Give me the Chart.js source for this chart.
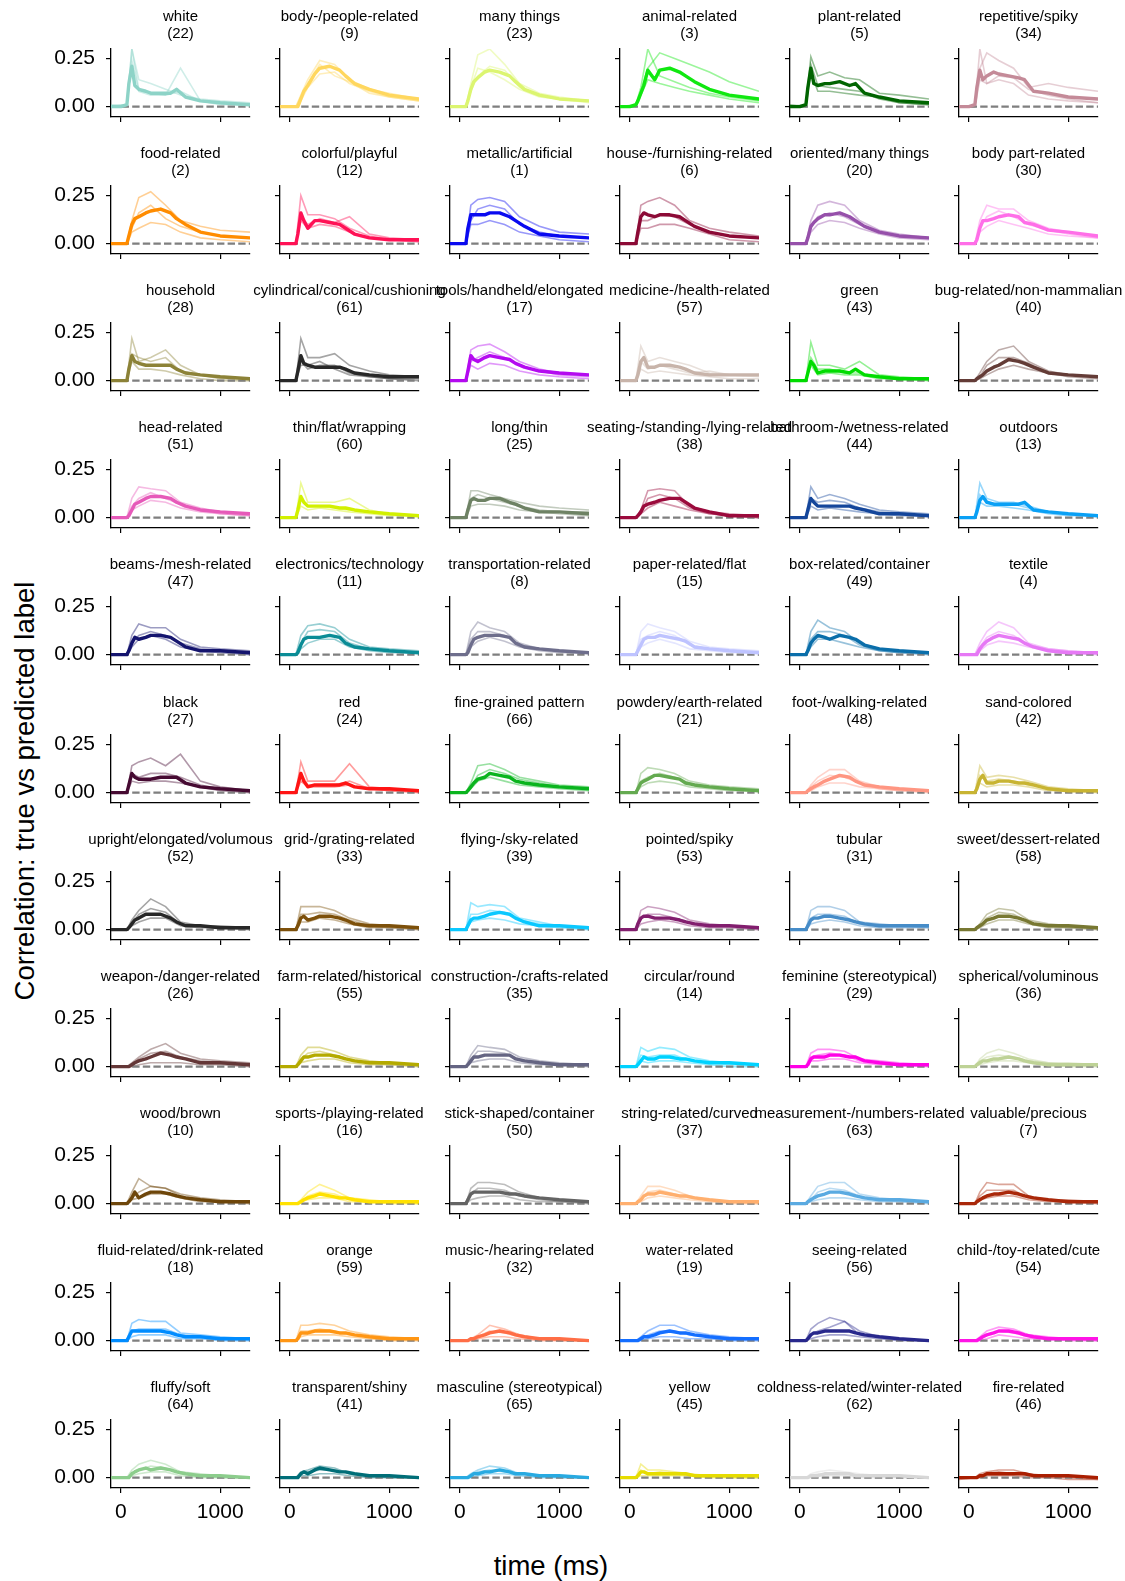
<!DOCTYPE html>
<html>
<head>
<meta charset="utf-8">
<script src="https://cdn.jsdelivr.net/npm/chart.js@4.4.1/dist/chart.umd.min.js"></script>
<style>
  body { margin: 0; background: #fff; width: 1125px; height: 1581px; position: relative; overflow: hidden;
         font-family: "Liberation Sans", Arial, sans-serif; }
  .cell { position: absolute; width: 289px; height: 168px; }
  #ylab { position: absolute; left: 25px; top: 791px; transform: translate(-50%, -50%) rotate(-90deg);
          font-size: 27.5px; white-space: nowrap; }
  #xlab { position: absolute; left: 551px; top: 1566px; transform: translate(-50%, -50%);
          font-size: 27.5px; white-space: nowrap; }
</style>
</head>
<body>
<div id="ylab">Correlation: true vs predicted label</div>
<div id="xlab">time (ms)</div>
<script>
// time points (ms) for the mean line and for the single-subject lines
const times = [-100, 0, 60, 80, 110, 140, 180, 250, 300, 400, 500, 560, 650, 800, 1000, 1300]
const subjTimes = [-100, 60, 110, 180, 300, 450, 600, 800, 1000, 1300]

const labels = [
  "white", "body-/people-related", "many things", "animal-related", "plant-related", "repetitive/spiky",
  "food-related", "colorful/playful", "metallic/artificial", "house-/furnishing-related", "oriented/many things", "body part-related",
  "household", "cylindrical/conical/cushioning", "tools/handheld/elongated", "medicine-/health-related", "green", "bug-related/non-mammalian",
  "head-related", "thin/flat/wrapping", "long/thin", "seating-/standing-/lying-related", "bathroom-/wetness-related", "outdoors",
  "beams-/mesh-related", "electronics/technology", "transportation-related", "paper-related/flat", "box-related/container", "textile",
  "black", "red", "fine-grained pattern", "powdery/earth-related", "foot-/walking-related", "sand-colored",
  "upright/elongated/volumous", "grid-/grating-related", "flying-/sky-related", "pointed/spiky", "tubular", "sweet/dessert-related",
  "weapon-/danger-related", "farm-related/historical", "construction-/crafts-related", "circular/round", "feminine (stereotypical)", "spherical/voluminous",
  "wood/brown", "sports-/playing-related", "stick-shaped/container", "string-related/curved", "measurement-/numbers-related", "valuable/precious",
  "fluid-related/drink-related", "orange", "music-/hearing-related", "water-related", "seeing-related", "child-/toy-related/cute",
  "fluffy/soft", "transparent/shiny", "masculine (stereotypical)", "yellow", "coldness-related/winter-related", "fire-related"
]
const counts = [
  22, 9, 23, 3, 5, 34,
  2, 12, 1, 6, 20, 30,
  28, 61, 17, 57, 43, 40,
  51, 60, 25, 38, 44, 13,
  47, 11, 8, 15, 49, 4,
  27, 24, 66, 21, 48, 42,
  52, 33, 39, 53, 31, 58,
  26, 55, 35, 14, 29, 36,
  10, 16, 50, 37, 63, 7,
  18, 59, 32, 19, 56, 54,
  64, 41, 65, 45, 62, 46
]
const colors = [
  "#8dd3c7", "#ffd75e", "#dcf570", "#10e810", "#006400", "#c48a98",
  "#ff8c00", "#ff1155", "#0a0af0", "#8c0a36", "#9650aa", "#ff6ee8",
  "#8c8237", "#282828", "#b40af0", "#c8b4aa", "#00dc00", "#643c37",
  "#e65ab9", "#d2f000", "#6e8264", "#9b0a3c", "#14469b", "#0aa0f5",
  "#14146e", "#0a8c96", "#6e6e8c", "#bec3ff", "#0a6eaa", "#e678f5",
  "#460a32", "#ff1414", "#0ab41e", "#64aa50", "#ff9682", "#c8b432",
  "#282828", "#7d500a", "#0ac8ff", "#821e6e", "#468cc8", "#787832",
  "#643737", "#b4aa00", "#646482", "#00d2ff", "#ff00e6", "#bed296",
  "#6e460a", "#ffe100", "#646464", "#ffaf6e", "#5aaae1", "#aa280a",
  "#008cff", "#ff9614", "#ff6e46", "#146eff", "#28288c", "#ff14e6",
  "#8ccd8c", "#006e78", "#28aae1", "#e6dc00", "#d7d7d7", "#aa1e00"
]

// mean correlation, in hundredths, at `times`
const means = [
  [0,0,1,12,21,11,9,8,7,7,7,9,5,3,2,1],
  [0,0,0,0,4,8,11,17,20,21,19,16,12,9,6,4],
  [0,0,0,3,9,13,15,18,19,18,16,13,9,6,4,3],
  [0,0,1,3,7,11,19,14,19,20,18,16,13,9,6,4],
  [0,0,1,10,20,12,11,12,12,13,11,12,7,5,3,2],
  [0,0,1,10,19,14,16,18,17,16,15,14,8,7,5,4],
  [0,0,0,4,10,13,14,16,17,18,16,13,10,6,4,3],
  [0,0,0,5,16,12,8,12,12,11,10,8,5,3,2,2],
  [0,0,0,8,15,15,15,15,16,16,14,12,9,5,4,3],
  [0,0,0,6,14,16,15,14,15,15,14,12,9,6,4,3],
  [0,0,0,3,9,11,13,15,15,16,14,12,9,6,4,3],
  [0,0,0,2,8,12,12,13,14,15,14,11,10,7,6,4],
  [0,0,0,6,13,10,9,8,8,8,8,6,4,3,2,1],
  [0,0,0,5,13,9,8,7,7,7,7,6,4,3,2,2],
  [0,0,0,5,13,11,10,12,13,12,11,9,7,5,4,3],
  [0,0,0,3,10,12,7,7,8,8,7,6,4,3,3,3],
  [0,0,0,4,10,8,4,5,5,5,4,6,3,2,1,1],
  [0,0,0,1,2,3,5,7,8,11,10,9,7,4,3,2],
  [0,0,0,1,4,7,8,10,11,11,10,8,6,4,3,2],
  [0,0,0,4,11,8,6,6,6,6,5,5,4,3,2,1],
  [0,0,0,4,9,10,9,9,10,10,8,7,5,3,3,2],
  [0,0,0,1,3,6,7,8,9,10,10,8,5,3,1,1],
  [0,0,0,4,10,8,6,6,6,6,6,5,4,2,2,1],
  [0,0,0,3,9,11,8,7,7,7,7,8,4,3,2,1],
  [0,0,0,2,6,9,8,9,10,10,9,7,4,2,2,1],
  [0,0,0,1,5,8,9,9,9,10,9,6,4,3,2,1],
  [0,0,0,1,5,8,9,10,10,10,9,6,4,3,2,1],
  [0,0,0,2,5,8,9,9,10,9,8,7,4,3,2,1],
  [0,0,0,2,6,8,10,9,8,10,9,8,5,3,2,1],
  [0,0,0,0,3,5,7,9,10,9,8,6,4,2,1,1],
  [0,0,0,4,10,8,7,7,7,8,8,8,5,3,2,1],
  [0,0,0,4,10,6,3,4,4,4,4,5,3,2,2,1],
  [0,0,0,1,3,5,7,8,10,9,8,6,5,4,3,2],
  [0,0,0,2,5,6,7,9,9,8,7,5,4,3,2,1],
  [0,0,0,1,2,3,4,6,7,9,8,6,4,3,2,1],
  [0,0,0,2,7,9,5,5,6,6,5,5,4,2,1,1],
  [0,0,0,1,3,5,6,8,8,8,6,4,2,2,1,1],
  [0,0,0,2,6,7,5,6,7,7,6,5,3,2,2,1],
  [0,0,0,2,5,6,6,7,8,9,8,6,4,2,2,1],
  [0,0,0,3,6,7,7,6,6,6,5,4,3,2,2,1],
  [0,0,0,2,5,6,6,7,7,6,5,4,3,2,2,2],
  [0,0,0,1,2,3,5,6,7,7,6,5,3,2,2,1],
  [0,0,0,0,1,2,3,4,5,7,6,5,4,2,2,1],
  [0,0,0,1,3,5,5,6,6,6,5,4,3,2,2,1],
  [0,0,0,1,3,5,5,6,6,6,6,4,3,2,1,1],
  [0,0,0,1,3,5,4,4,5,5,4,4,3,2,2,1],
  [0,0,0,1,4,5,5,5,6,6,5,5,3,2,1,1],
  [0,0,0,1,2,3,3,4,4,5,4,3,2,1,1,1],
  [0,0,0,1,3,6,3,5,6,6,5,4,3,2,1,1],
  [0,0,0,0,1,2,3,4,5,4,3,3,2,1,1,1],
  [0,0,0,2,5,6,6,6,6,6,5,5,4,3,2,1],
  [0,0,0,1,2,4,5,5,6,5,4,4,3,2,1,1],
  [0,0,0,1,2,3,4,5,6,6,5,4,3,2,2,1],
  [0,0,0,1,2,3,4,5,5,6,5,4,3,2,1,1],
  [0,0,0,2,5,5,5,5,5,5,4,3,2,2,1,1],
  [0,0,0,1,4,4,4,5,5,5,4,4,3,2,1,1],
  [0,0,0,0,1,1,2,3,4,5,4,3,2,1,1,0],
  [0,0,0,0,1,2,2,3,4,5,4,4,3,2,1,1],
  [0,0,0,1,3,4,4,5,5,5,5,4,3,2,1,0],
  [0,0,0,0,1,2,3,4,5,5,4,3,2,1,1,1],
  [0,0,0,0,2,3,4,5,4,5,4,3,2,1,1,0],
  [0,0,0,0,2,3,2,4,5,4,3,3,2,1,1,0],
  [0,0,0,0,1,2,2,3,3,4,3,2,2,1,1,0],
  [0,0,0,1,3,3,2,2,2,2,2,2,1,1,1,1],
  [0,0,0,0,1,1,1,2,2,2,2,1,1,1,1,0],
  [0,0,0,0,1,1,2,2,2,2,2,2,1,1,1,0]
]

// single-subject curves, in hundredths, at `subjTimes`
const subjA = [
  [0,1,30,14,12,9,6,4,3,2], [0,0,6,14,24,22,14,9,7,4], [0,0,12,27,30,22,12,7,5,3],
  [0,1,10,30,16,13,10,7,5,3], [0,1,26,16,18,15,14,7,6,4], [0,0,20,28,24,20,10,12,10,8],
  [0,0,12,24,27,20,12,9,7,6], [0,0,25,15,15,13,8,4,2,1], [0,0,20,23,24,22,14,9,6,5],
  [0,0,20,22,24,20,12,8,6,4], [0,0,12,20,22,20,12,7,5,3], [0,0,12,20,18,18,12,8,6,4],
  [0,0,22,10,12,16,8,3,2,1], [0,0,22,12,12,14,8,5,3,2], [0,0,16,18,19,15,10,6,4,3],
  [0,0,18,10,12,10,8,4,3,3], [0,0,20,8,8,6,10,3,2,1], [0,0,4,10,16,18,10,5,3,2],
  [0,0,10,16,15,14,8,5,3,2], [0,0,18,8,8,8,10,4,2,1], [0,0,14,14,12,10,8,6,5,4],
  [0,0,4,14,15,14,6,3,2,1], [0,0,16,10,12,10,7,4,3,2], [0,0,18,10,8,8,6,3,2,1],
  [0,0,10,16,14,14,8,4,3,2], [0,0,10,15,16,14,8,4,3,2], [0,0,12,17,14,12,6,3,2,1],
  [0,0,12,16,14,12,7,4,3,2], [0,0,12,18,14,12,6,3,2,1], [0,0,6,12,17,14,6,3,2,1],
  [0,0,14,16,18,14,20,6,3,1], [0,0,16,6,6,6,15,3,2,1], [0,0,5,14,15,12,8,6,4,3],
  [0,0,10,13,12,10,6,4,3,2], [0,0,4,8,12,12,6,3,2,1], [0,0,14,8,9,8,6,3,2,1],
  [0,0,5,10,16,12,4,2,2,1], [0,0,12,12,12,10,6,3,2,1], [0,0,14,12,13,12,6,4,2,1],
  [0,0,10,12,11,9,5,3,2,1], [0,0,10,12,12,10,4,3,2,2], [0,0,3,8,11,10,5,3,2,1],
  [0,0,2,5,9,12,7,4,3,2], [0,0,6,10,10,8,5,3,2,1], [0,0,6,11,10,9,5,3,2,1],
  [0,0,10,8,10,9,5,3,2,1], [0,0,7,9,9,8,4,3,2,1], [0,0,4,7,9,7,4,2,2,1],
  [0,0,6,13,9,8,5,3,2,1], [0,0,2,6,10,7,3,2,1,1], [0,0,8,11,11,10,6,3,2,1],
  [0,0,4,9,9,7,4,2,1,1], [0,0,4,9,11,11,5,3,2,1], [0,0,6,11,10,10,4,2,2,1],
  [0,0,9,11,10,10,4,3,2,1], [0,0,8,8,9,8,5,3,2,1], [0,0,1,3,8,6,3,1,1,0],
  [0,0,2,5,8,8,5,3,2,1], [0,0,6,9,12,10,5,2,1,0], [0,0,2,5,7,6,3,2,1,1],
  [0,0,4,7,9,7,3,2,1,0], [0,0,3,4,6,5,2,1,1,0], [0,0,2,4,6,5,2,1,1,0],
  [0,0,7,4,4,3,2,1,1,1], [0,0,2,3,4,3,2,1,1,0], [0,0,2,3,4,4,2,1,1,0]
]
const subjB = [
  [1,1,24,8,6,6,8,3,1,1], [0,0,3,10,17,18,12,8,5,3], [0,0,8,16,21,19,10,6,4,3],
  [0,0,8,20,28,25,22,18,13,8], [1,0,22,11,10,9,8,4,2,1], [0,0,14,12,16,15,9,6,4,2],
  [0,0,8,16,20,13,9,6,4,3], [0,0,14,10,13,11,14,5,3,2], [0,0,12,18,20,18,10,6,4,3],
  [0,0,12,12,15,14,10,6,4,3], [0,0,8,14,16,14,10,6,4,3], [0,0,8,14,17,14,10,7,5,3],
  [0,0,14,12,10,12,5,3,1,1], [0,0,10,6,8,8,4,2,1,1], [0,0,10,12,15,12,8,5,3,2],
  [0,0,10,6,8,6,4,5,3,2], [0,0,12,6,6,4,4,2,1,0], [0,0,2,8,12,12,9,4,3,2],
  [0,0,6,10,13,10,7,4,2,1], [0,0,10,6,6,5,4,3,2,1], [0,0,10,12,10,8,6,4,3,3],
  [0,0,2,10,12,10,5,2,1,0], [0,0,10,8,9,8,5,3,2,1], [0,0,12,8,7,7,5,3,2,1],
  [0,0,6,10,12,10,6,3,2,1], [0,0,6,12,13,12,6,3,2,1], [0,0,8,12,12,10,5,3,2,1],
  [0,0,8,10,12,10,5,3,2,1], [0,0,8,12,12,10,5,2,1,1], [0,0,4,9,12,10,5,3,2,1],
  [0,0,10,8,10,10,8,4,2,1], [0,0,10,4,4,4,6,2,1,1], [0,0,3,9,12,10,7,5,3,2],
  [0,0,6,8,10,8,5,3,2,1], [0,0,3,6,9,8,5,2,1,1], [0,0,9,6,7,6,4,2,1,1],
  [0,0,3,8,11,9,3,2,1,1], [0,0,8,8,9,8,5,2,1,1], [0,0,8,8,10,9,5,3,2,1],
  [0,0,6,8,8,6,4,2,2,1], [0,0,6,8,8,7,3,2,2,1], [0,0,2,6,9,8,4,2,1,1],
  [0,0,1,4,7,8,5,3,2,1], [0,0,4,7,8,6,4,2,1,1], [0,0,4,8,8,7,4,2,1,1],
  [0,0,6,5,6,6,3,2,1,1], [0,0,5,6,7,6,3,2,1,1], [0,0,3,5,6,5,3,2,1,1],
  [0,0,3,6,9,8,4,2,1,1], [0,0,1,4,6,5,2,1,1,0], [0,0,5,8,8,7,4,2,1,1],
  [0,0,2,6,7,5,3,2,1,0], [0,0,2,6,8,7,4,2,1,1], [0,0,4,7,7,7,3,2,1,1],
  [0,0,5,6,6,6,3,2,1,1], [0,0,5,5,6,5,3,2,1,1], [0,0,1,2,5,4,2,1,0,0],
  [0,0,1,3,5,5,3,2,1,1], [0,0,3,5,7,10,3,2,1,0], [0,0,1,3,5,4,2,1,1,0],
  [0,0,2,4,6,5,2,1,0,0], [0,0,2,3,4,4,2,1,0,0], [0,0,1,3,4,3,2,1,0,0],
  [0,0,4,2,3,2,1,1,0,0], [0,0,1,2,2,2,1,1,0,0], [0,0,1,2,3,2,1,1,0,-1]
]
const subjC = [
  [0,0,30,9,7,6,20,3,2,1], [0,0,5,12,22,16,13,7,5,3], [0,0,10,20,18,14,9,5,4,2],
  [0,0,6,14,12,10,8,6,4,2], [0,0,18,8,8,7,6,5,2,1], [0,0,30,12,14,12,6,4,3,2],
  [0,0,6,8,11,10,6,3,2,1], [0,0,12,8,10,9,6,3,2,1], [0,0,10,10,12,10,6,4,2,1],
  [0,0,8,8,10,10,8,5,2,1], [0,0,6,10,12,11,8,5,3,2], [0,0,6,9,12,10,8,5,4,3],
  [0,0,10,6,6,5,3,1,0,0], [0,0,8,8,10,6,3,2,1,0], [0,0,8,6,9,8,5,3,2,1],
  [0,0,6,4,5,4,3,2,1,1], [0,0,8,3,4,3,3,1,1,1], [0,0,1,3,6,8,6,4,2,1],
  [0,0,4,6,9,8,5,3,2,1], [0,0,6,4,5,4,3,2,1,1], [0,0,6,7,7,6,4,3,2,1],
  [0,0,2,5,8,6,4,2,1,0], [0,0,6,4,5,4,3,2,1,1], [0,0,8,6,6,5,4,2,1,1],
  [0,0,4,8,10,8,4,2,1,0], [0,0,3,6,8,8,4,2,1,1], [0,0,4,7,9,7,4,2,1,1],
  [0,0,4,6,8,6,3,2,1,1], [0,0,4,8,8,6,4,2,1,0], [0,0,2,5,7,6,4,2,1,0],
  [0,0,6,5,6,6,5,3,1,0], [0,0,6,3,3,3,4,2,1,0], [0,0,2,6,8,6,4,3,2,1],
  [0,0,3,5,6,5,3,2,1,1], [0,0,1,3,5,5,3,2,1,0], [0,0,5,3,4,4,3,1,1,0],
  [0,0,2,4,6,6,2,1,1,0], [0,0,4,4,6,5,3,1,1,0], [0,0,4,5,6,5,3,2,1,0],
  [0,0,3,4,5,4,2,1,1,0], [0,0,3,4,5,4,2,1,1,1], [0,0,1,3,5,5,3,1,1,0],
  [0,0,0,1,2,2,2,1,1,0], [0,0,2,3,4,4,2,1,1,0], [0,0,2,3,4,4,2,1,1,0],
  [0,0,3,2,3,3,2,1,0,0], [0,0,3,3,4,4,2,1,1,0], [0,0,1,2,3,3,2,1,0,0],
  [0,0,2,3,5,5,3,1,1,0], [0,0,1,2,3,3,1,1,0,0], [0,0,2,3,4,4,2,1,1,0],
  [0,0,1,3,4,3,2,1,0,0], [0,0,1,2,3,3,2,1,1,0], [0,0,2,3,4,4,2,1,1,0],
  [0,0,2,3,3,3,1,1,0,0], [0,0,2,3,3,3,2,1,0,0], [0,0,0,1,2,2,1,0,0,0],
  [0,0,0,1,2,2,1,1,0,0], [0,0,1,2,3,3,2,1,0,0], [0,0,0,1,3,2,1,1,0,0],
  [0,0,1,2,3,3,1,0,0,0], [0,0,1,1,2,2,1,0,0,0], [0,0,0,1,2,2,1,0,0,0],
  [0,0,1,1,1,1,1,0,0,0], [0,0,0,1,1,1,0,0,0,0], [-1,0,0,1,1,1,0,0,-1,-1]
]

const nCols = 6, nRows = 11
const colStep = 169.7, rowStep = 137.1

Chart.defaults.font.family = '"Liberation Sans", Arial, sans-serif'
Chart.defaults.color = '#000'

function fade(hex, a) {
  let n = parseInt(hex.slice(1), 16)
  return 'rgba(' + (n >> 16) + ',' + ((n >> 8) & 255) + ',' + (n & 255) + ',' + a + ')'
}

function axisLook() {
  return {
    grid: { drawOnChartArea: false, drawTicks: true, tickLength: 5, color: '#000', lineWidth: 1.2 },
    border: { display: true, color: '#000', width: 1.3 }
  }
}

labels.forEach((name, i) => {
  let r = Math.floor(i / nCols), c = i % nCols
  let cell = document.createElement('div')
  cell.className = 'cell'
  cell.style.left = (110.7 + colStep * c - 75) + 'px'
  cell.style.top = (49 + rowStep * r - 60) + 'px'
  let cv = document.createElement('canvas')
  cell.appendChild(cv)
  document.body.appendChild(cell)

  let col = colors[i]
  let datasets = [
    { data: times.map((t, k) => ({ x: t, y: means[i][k] / 100 })), borderColor: col, borderWidth: 3.4,
      pointRadius: 0, borderJoinStyle: 'round', borderCapStyle: 'round' },
    { data: [{ x: -100, y: 0 }, { x: 1300, y: 0 }], borderColor: '#7f7f7f', borderWidth: 2.4,
      borderDash: [7.4, 3.2], pointRadius: 0 }
  ]
  ;[subjA, subjB, subjC].forEach(s => {
    datasets.push({ data: subjTimes.map((t, k) => ({ x: t, y: s[i][k] / 100 })), borderColor: fade(col, 0.42),
      borderWidth: 1.6, pointRadius: 0 })
  })

  let xAxis = axisLook(), yAxis = axisLook()
  Object.assign(xAxis, {
    type: 'linear', min: -100, max: 1300,
    afterBuildTicks: s => { s.ticks = [{ value: 0 }, { value: 1000 }] },
    afterFit: s => { s.height = 40 },
    ticks: { display: r === nRows - 1, font: { size: 21 }, padding: 7, maxRotation: 0, autoSkip: false,
             callback: v => String(v) }
  })
  Object.assign(yAxis, {
    type: 'linear', min: -0.054, max: 0.30,
    afterBuildTicks: s => { s.ticks = [{ value: 0 }, { value: 0.25 }] },
    afterFit: s => { s.width = 75 },
    ticks: { display: c === 0, font: { size: 21 }, padding: 11, callback: v => v.toFixed(2) }
  })
  // empty right-hand axis so the panel (and its title) stays centred in the canvas
  let spacer = {
    type: 'linear', position: 'right', display: true,
    afterFit: s => { s.width = 75 },
    grid: { display: false }, border: { display: false }, ticks: { display: false }
  }

  new Chart(cv, {
    type: 'line',
    data: { datasets: datasets },
    options: {
      animation: false,
      responsive: true,
      maintainAspectRatio: false,
      layout: { padding: 0 },
      plugins: {
        legend: { display: false },
        tooltip: { enabled: false },
        title: {
          display: true, text: [name, '(' + counts[i] + ')'], color: '#000',
          font: { size: 15, weight: 'normal', lineHeight: 17 / 15 },
          padding: { top: 19.2, bottom: 6.8 }
        }
      },
      scales: { x: xAxis, y: yAxis, yr: spacer }
    }
  })
})
</script>
</body>
</html>
